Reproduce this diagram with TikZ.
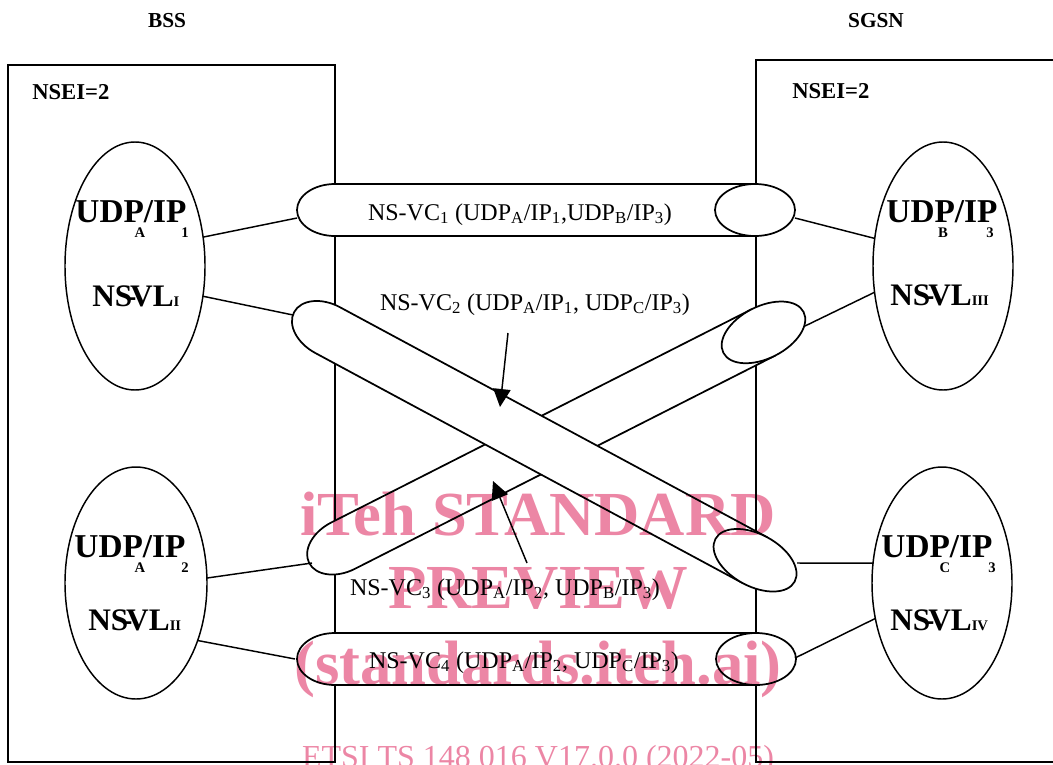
\documentclass[tikz,border=0pt]{standalone}
\usepackage{fontspec}
\setmainfont{Liberation Serif}
\usetikzlibrary{shapes.geometric,arrows.meta}
\definecolor{wm}{RGB}{236,134,165}
\tikzset{
  boxline/.style={line width=2pt},
  tubeline/.style={line width=1.3pt},
  ell/.style={ellipse, draw, line width=1.1pt, inner sep=0pt, outer sep=0pt},
  conn/.style={line width=1.1pt},
  arr/.style={line width=1.1pt, -{Triangle[length=13.5pt,width=13pt]}},
  title/.style={inner sep=0pt, anchor=base, font=\fontsize{16}{16}\selectfont\bfseries},
  nsei/.style={inner sep=0pt, anchor=base west, font=\fontsize{17}{17}\selectfont\bfseries},
  udp/.style={inner sep=0pt, anchor=base, font=\fontsize{25}{25}\selectfont\bfseries},
  subl/.style={inner sep=0pt, anchor=base, font=\fontsize{11}{11}\selectfont\bfseries},
  nsvl/.style={inner sep=0pt, anchor=base west, font=\fontsize{23.5}{23.5}\selectfont\bfseries},
  vctext/.style={inner sep=0pt, anchor=base, font=\fontsize{18}{18}\selectfont},
  wmtext/.style={inner sep=0pt, anchor=base, text=wm, font=\fontsize{47}{47}\selectfont\bfseries},
  wmsmall/.style={inner sep=0pt, anchor=base, text=wm, font=\fontsize{24}{24}\selectfont},
  pics/tube/.style n args={3}{code={
    \fill[white] (0,26) arc[start angle=90,end angle=270,x radius=#2,y radius=26] -- (#1,-26) -- (#1,26) -- cycle;
    \draw[tubeline] (#1,26) -- (0,26) arc[start angle=90,end angle=270,x radius=#2,y radius=26] -- (#1,-26);
    \draw[tubeline,fill=white] (#1,0) ellipse[x radius=#3,y radius=26];
  }}
}
\newcommand{\nsvlword}{NS\kern-.2em-\kern-.2em VL}
\begin{document}
\begin{tikzpicture}[x=0.75pt,y=0.75pt]
\useasboundingbox (0,0) rectangle (1053,-764);

% titles
\node[title] (bss) at (167,-27) {BSS};
\node[title] (sgsn) at (876,-27) {SGSN};

% boxes
\draw[boxline] (8,-65) rectangle (335,-762);
\draw[boxline] (1060,-60) -- (756,-60) -- (756,-762) -- (1060,-762);
\node[nsei] (nseiL) at (32,-99) {NSEI=2};
\node[nsei] (nseiR) at (792,-98) {NSEI=2};

% tubes (tube 3 first, tube 2 over it)
\begin{scope}[shift={(343,-545.7)},rotate=26.9]
  \pic[transform shape] {tube={471.5}{38}{45}};
\end{scope}
\begin{scope}[shift={(327.6,-330.1)},rotate=-28.3]
  \pic[transform shape] {tube={485.5}{38}{45}};
\end{scope}
\pic at (335,-210) {tube={420}{38}{40}};
\pic at (335,-659) {tube={421}{38}{40}};

% tube end points
\coordinate (t1w) at (297,-218);
\coordinate (t1e) at (795,-218);
\coordinate (t2w) at (293,-315);
\coordinate (t2e) at (797,-563);
\coordinate (t3w) at (312,-563);
\coordinate (t3e) at (805,-326);
\coordinate (t4w) at (295,-659);
\coordinate (t4e) at (795,-658);

% ellipses
\node[ell, minimum width=105pt, minimum height=186pt] (eA1) at (135,-266) {};
\node[ell, minimum width=106.5pt, minimum height=174pt] (eA2) at (136,-583) {};
\node[ell, minimum width=105pt, minimum height=186pt] (eB) at (943,-266) {};
\node[ell, minimum width=105pt, minimum height=174pt] (eC) at (942,-583) {};

% ellipse texts
\node[udp] (uA1) at (131,-222) {UDP/IP};
\node[subl] (uA1a) at (140,-237) {A};
\node[subl] (uA1b) at (185,-237) {1};
\node[nsvl] (n1) at (92,-306) {\nsvlword{\fontsize{11}{11}\selectfont I}};

\node[udp] (uB) at (942,-222) {UDP/IP};
\node[subl] (uBa) at (943,-237) {B};
\node[subl] (uBb) at (990,-237) {3};
\node[nsvl] (n3) at (890,-305) {\nsvlword{\fontsize{11}{11}\selectfont III}};

\node[udp] (uA2) at (130,-557) {UDP/IP};
\node[subl] (uA2a) at (140,-572) {A};
\node[subl] (uA2b) at (185,-572) {2};
\node[nsvl] (n2) at (88,-630) {\nsvlword{\fontsize{11}{11}\selectfont II}};

\node[udp] (uC) at (937,-557) {UDP/IP};
\node[subl] (uCa) at (945,-572) {C};
\node[subl] (uCb) at (992,-572) {3};
\node[nsvl] (n4) at (890,-630) {\nsvlword{\fontsize{11}{11}\selectfont IV}};

% connectors
\draw[conn] (eA1.23) -- (t1w);
\draw[conn] (t1e) -- (eB.158);
\draw[conn] (eA1.-24) -- (t2w);
\draw[conn] (t3e) -- (eB.201);
\draw[conn] (eA2.4) -- (t3w);
\draw[conn] (eA2.-43) -- (t4w);
\draw[conn] (t2e) -- (eC.164);
\draw[conn] (t4e) -- (eC.208);

% tube labels
\node[vctext] (vc1) at (520,-220) {NS-VC\textsubscript{1} (UDP\textsubscript{A}/IP\textsubscript{1},UDP\textsubscript{B}/IP\textsubscript{3})};
\node[vctext] (vc2) at (535,-310) {NS-VC\textsubscript{2} (UDP\textsubscript{A}/IP\textsubscript{1}, UDP\textsubscript{C}/IP\textsubscript{3})};
\node[vctext] (vc3) at (505,-595) {NS-VC\textsubscript{3} (UDP\textsubscript{A}/IP\textsubscript{2}, UDP\textsubscript{B}/IP\textsubscript{3})};
\node[vctext] (vc4) at (524,-668) {NS-VC\textsubscript{4} (UDP\textsubscript{A}/IP\textsubscript{2}, UDP\textsubscript{C}/IP\textsubscript{3})};

% arrows
\coordinate (a2s) at (508,-333);
\coordinate (a2t) at (500,-407);
\coordinate (a3s) at (527,-563);
\coordinate (a3t) at (493,-481);
\draw[arr] (a2s) -- (a2t);
\draw[arr] (a3s) -- (a3t);

% watermark
\begin{scope}[blend mode=multiply]
\node[wmtext] (wm1) at (538,-535) {iTeh STANDARD};
\node[wmtext] (wm2) at (538,-608) {PREVIEW};
\node[wmtext] (wm3) at (538,-684) {(standards.iteh.ai)};
\node[wmsmall] (wm4) at (538,-767) {ETSI TS 148 016 V17.0.0 (2022-05)};
\end{scope}
\end{tikzpicture}
\end{document}
